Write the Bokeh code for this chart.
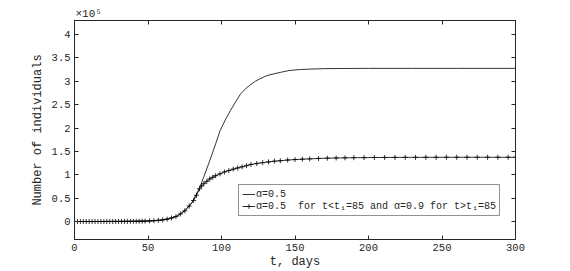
from bokeh.plotting import figure
from bokeh.models import (LinearAxis, FixedTicker, CustomJSTickFormatter, Range1d,
                          Legend, LegendItem)
from bokeh.embed import file_html
from bokeh.resources import INLINE

# ---- data (values in units of 1e5 individuals) ----
t_a = [0, 10, 20, 30, 40, 45, 50, 55, 60, 65, 70, 75, 80, 85, 88, 92, 96, 99, 103,
       106, 110, 113, 116, 119, 123, 126, 130, 133, 140, 146, 153, 160, 170, 180,
       200, 230, 260, 300]
v_a = [0, 0, 0.001, 0.002, 0.004, 0.006, 0.01, 0.02, 0.035, 0.065, 0.12, 0.23, 0.41,
       0.71, 0.96, 1.30, 1.66, 1.94, 2.20, 2.37, 2.58, 2.73, 2.83, 2.91, 3.00, 3.05,
       3.11, 3.14, 3.19, 3.23, 3.25, 3.26, 3.27, 3.273, 3.276, 3.276, 3.276, 3.276]

t_b = [0, 2, 4, 6, 8, 10, 12, 14, 16, 18, 20, 22, 24, 26, 28, 30, 32, 34, 36, 38,
       40, 42, 44, 46, 48, 51, 54, 57, 60, 63, 66, 69, 72, 75, 78, 81, 83, 85, 86.5,
       88, 90, 92, 94, 96, 99, 102, 105, 108, 111, 114, 117, 120, 124, 128, 132, 136,
       140, 145, 150, 155, 160, 166, 172, 178, 184, 190, 197, 204, 211, 218, 225, 232,
       239, 246, 253, 260, 267, 274, 281, 288, 295, 300]
v_b = [0, 0, 0, 0, 0, 0, 0, 0, 0, 0, 0, 0.001, 0.001, 0.001, 0.002, 0.002, 0.002,
       0.003, 0.003, 0.004, 0.004, 0.005, 0.006, 0.007, 0.008, 0.012, 0.017, 0.025,
       0.035, 0.05, 0.075, 0.105, 0.16, 0.23, 0.33, 0.45, 0.56, 0.70, 0.76, 0.81,
       0.86, 0.91, 0.945, 0.98, 1.02, 1.06, 1.09, 1.12, 1.145, 1.17, 1.195, 1.22,
       1.24, 1.26, 1.275, 1.29, 1.30, 1.315, 1.325, 1.333, 1.34, 1.348, 1.355, 1.359,
       1.362, 1.365, 1.367, 1.369, 1.37, 1.371, 1.372, 1.372, 1.373, 1.373, 1.374,
       1.374, 1.374, 1.374, 1.374, 1.374, 1.374, 1.374]

x_ticks = [0, 50, 100, 150, 200, 250, 300]
y_ticks = [0, 0.5, 1, 1.5, 2, 2.5, 3, 3.5, 4]
label_a = "α=0.5"
label_b = "α=0.5  for t<t₁=85 and α=0.9 for t>t₁=85"
x_label = "t, days"
y_label = "Number of individuals"
exponent = "×10⁵"

FONT = "Liberation Mono"
FS = "10.5px"
LFS = "12px"
AX = "#262626"

p = figure(width=566, height=271, output_backend="svg", toolbar_location=None,
           x_range=Range1d(0, 300), y_range=Range1d(-0.385, 4.3),
           min_border_left=74, min_border_right=51, min_border_top=20,
           min_border_bottom=32, x_axis_location=None, y_axis_location=None)
p.background_fill_color = "white"
p.border_fill_color = "white"
p.xgrid.visible = False
p.ygrid.visible = False
p.outline_line_color = AX
p.outline_line_width = 1

p.title.text = exponent
p.title.align = "left"
p.title.text_font = FONT
p.title.text_font_size = "11px"
p.title.text_font_style = "normal"
p.title.text_color = AX
p.title.standoff = 1
p.title.offset = 1


def style(ax, ticks, show_labels, label=None, lstand=4, astand=4):
    ax.ticker = FixedTicker(ticks=ticks)
    ax.axis_line_color = AX
    ax.major_tick_line_color = AX
    ax.major_tick_in = 4
    ax.major_tick_out = 0
    ax.minor_tick_line_color = None
    ax.major_label_text_font = FONT
    ax.major_label_text_font_size = FS
    ax.major_label_text_color = AX
    if show_labels:
        ax.formatter = CustomJSTickFormatter(code="return tick.toString();")
        ax.major_label_standoff = lstand
    else:
        ax.formatter = CustomJSTickFormatter(code="return '';")
        ax.major_label_standoff = 0
    if label:
        ax.axis_label = label
        ax.axis_label_text_font = FONT
        ax.axis_label_text_font_size = LFS
        ax.axis_label_text_font_style = "normal"
        ax.axis_label_text_color = AX
        ax.axis_label_standoff = astand


xb = LinearAxis(); style(xb, x_ticks, True, x_label, lstand=4, astand=1); p.add_layout(xb, "below")
yl = LinearAxis(); style(yl, y_ticks, True, y_label, lstand=4, astand=4); p.add_layout(yl, "left")
xt = LinearAxis(); style(xt, x_ticks, False); p.add_layout(xt, "above")
yr = LinearAxis(); style(yr, y_ticks, False); p.add_layout(yr, "right")

ra = p.line(t_a, v_a, line_color="black", line_width=0.8)
rb = p.line(t_b, v_b, line_color="black", line_width=0.8)
rbm = p.scatter(t_b, v_b, marker="cross", size=5, line_color="black", line_width=0.8)

legend = Legend(items=[LegendItem(label=label_a, renderers=[ra]),
                       LegendItem(label=label_b, renderers=[rb, rbm])],
                location=(164, 23), margin=0, padding=3, spacing=0,
                label_height=12, glyph_height=12, glyph_width=13, label_standoff=1,
                label_text_font=FONT, label_text_font_size="10px",
                label_text_color=AX, border_line_color=AX, border_line_width=1,
                background_fill_color="white", background_fill_alpha=1)
p.add_layout(legend, "center")

open("out.html", "w").write(file_html(p, INLINE))
